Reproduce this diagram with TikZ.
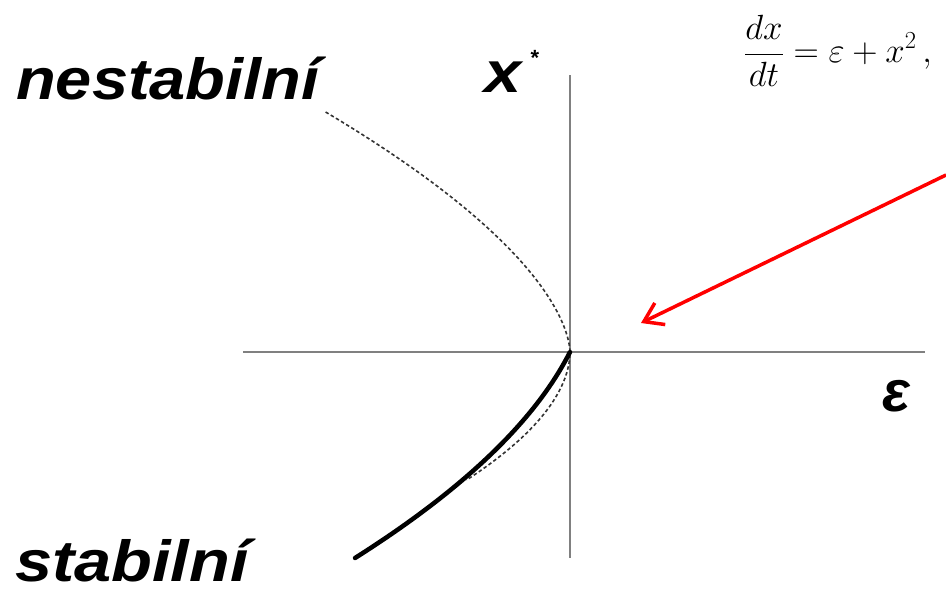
\RequirePackage{fix-cm}
\documentclass[tikz,border=0pt]{standalone}
\usepackage{fontspec}
\newfontfamily\lab{Liberation Sans}
\usetikzlibrary{arrows.meta}
\begin{document}
\begin{tikzpicture}[x=1pt,y=-1pt,
  axis/.style={draw=black!50, line width=1.8pt},
  unstab/.style={draw=black!80, line width=1.6pt, dash pattern=on 3.5pt off 2.5pt},
  stab/.style={draw=black, line width=4.5pt},
  bigtxt/.style={inner sep=0pt, font=\lab\bfseries\itshape\fontsize{58}{58}\selectfont},
  pointer/.style={draw=red, line width=3.5pt, -{Straight Barb[length=18pt,width=24pt]}}]
\useasboundingbox (0,0) rectangle (946,593);
% axes
\coordinate (o) at (570,352);
\coordinate (yt) at (570,75);
\coordinate (yb) at (570,558);
\coordinate (xl) at (243,352);
\coordinate (xr) at (925,352);
\draw[axis] (yb) -- (yt);
\draw[axis] (xl) -- (xr);
% unstable (dashed) branch
\draw[unstab] plot[domain=240:0, samples=60, variable=\t] ({570-0.0289*(\t)^1.65}, {352-\t})
  -- plot[domain=0:128, samples=50, variable=\t] ({570-0.01025*(\t)^1.9}, {352+\t});
% stable (solid) branch
\draw[stab, line cap=round] plot[domain=0:206, samples=60, variable=\t] ({570-0.506*\t-0.002612*\t*\t}, {352+\t});
% labels
\node[bigtxt, anchor=base west, xscale=1.12] (nest) at (16,100) {nestabilní};
\node[bigtxt, anchor=base west, xscale=1.15] (stab) at (15,582) {stabilní};
\node[bigtxt, anchor=base west, xscale=1.15] (xs) at (484,93) {x};
\node[inner sep=0pt, font=\lab\bfseries\fontsize{22}{22}\selectfont] (star) at (535,58) {*};
\node[bigtxt, anchor=base west] (eps) at (882,412) {ε};
% equation
\node[inner sep=0pt, anchor=west, font=\fontsize{35}{35}\selectfont] (eq) at (744,51) {$\displaystyle \frac{dx}{dt}=\varepsilon+x^{2}\,,$};
% red arrow
\coordinate (as) at (946,175);
\coordinate (ae) at (641,323);
\draw[pointer] (as) -- (ae);
\end{tikzpicture}
\end{document}
